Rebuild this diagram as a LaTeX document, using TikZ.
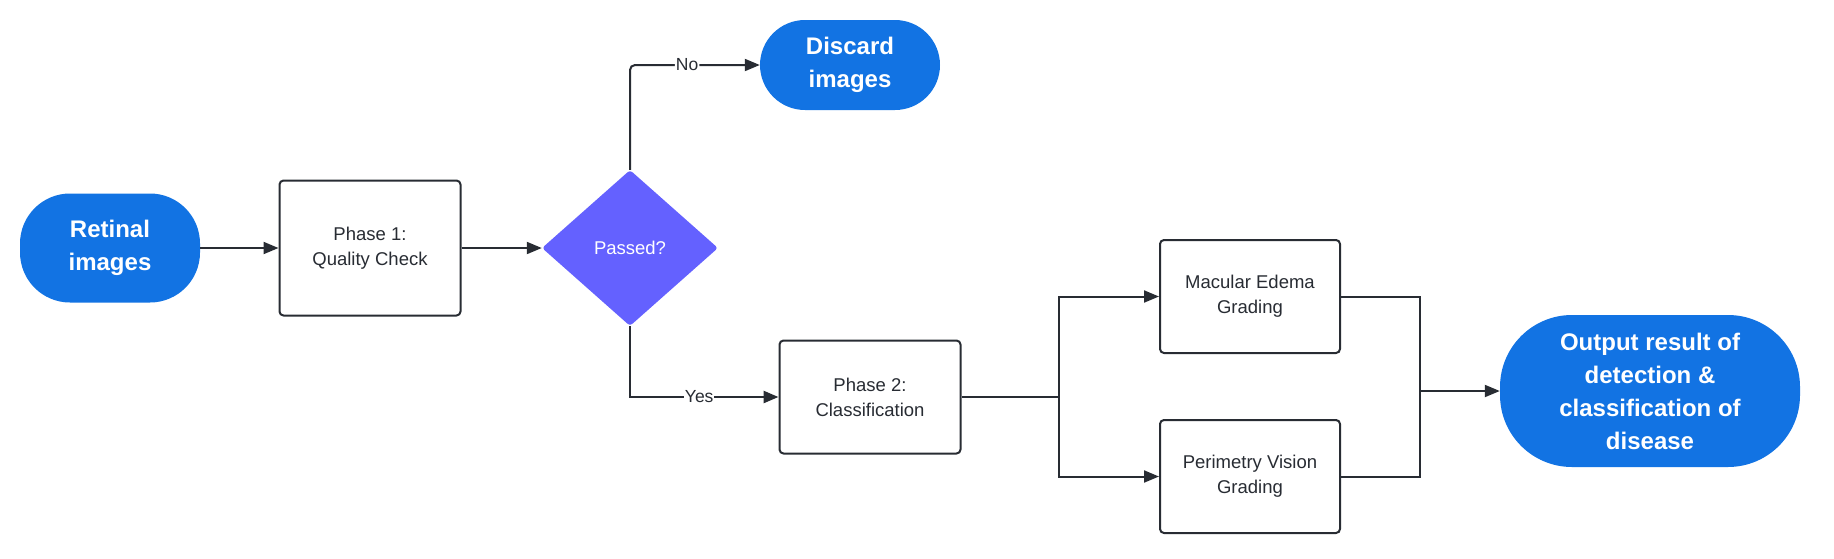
\documentclass[tikz,border=0pt]{standalone}
\usepackage{fontspec}
\setmainfont{Liberation Sans}
\usetikzlibrary{shapes.geometric,arrows.meta}
\definecolor{lblue}{HTML}{1273E3}
\definecolor{lpurple}{HTML}{6461FF}
\definecolor{ink}{HTML}{282C33}
\tikzset{
  term/.style={fill=lblue, text=white, align=center, inner sep=0pt,
    font=\fontsize{24}{33}\selectfont\bfseries},
  proc/.style={draw=ink, line width=2pt, fill=white, rounded corners=4pt, align=center,
    text=ink, minimum width=181pt, inner sep=0pt, font=\fontsize{18.5}{25}\selectfont},
  dec/.style={diamond, fill=lpurple, text=white, aspect=1.128, minimum width=176pt,
    minimum height=156pt, inner sep=0pt, rounded corners=3pt, font=\fontsize{18.5}{25}\selectfont},
  conn/.style={draw=ink, line width=2pt, -{Triangle[length=15pt,width=12pt]}},
  plain/.style={draw=ink, line width=2pt},
  lbl/.style={fill=white, text=ink, inner sep=1pt, font=\fontsize{17.5}{20}\selectfont},
}
\begin{document}
\begin{tikzpicture}[x=1pt,y=-1pt]
\useasboundingbox (0,0) rectangle (1834,558);
\node[term, minimum width=180pt, minimum height=109pt, rounded corners=50pt] (ret) at (110,248) {Retinal\\images};
\node[proc, minimum height=135pt] (p1) at (370,248) {Phase 1:\\Quality Check};
\node[dec] (dia) at (630,248) {Passed?};
\node[term, minimum width=180pt, minimum height=90pt, rounded corners=45pt] (dis) at (850,65) {Discard\\images};
\node[proc, minimum height=113pt] (p2) at (870,397) {Phase 2:\\Classification};
\node[proc, minimum width=180pt, minimum height=113pt] (mac) at (1250,296.5) {Macular Edema\\Grading};
\node[proc, minimum width=180pt, minimum height=113pt] (per) at (1250,476.5) {Perimetry Vision\\Grading};
\node[term, minimum width=300pt, minimum height=152pt, rounded corners=72pt] (out) at (1650,391) {Output result of\\detection \&\\classification of\\disease};
\coordinate (split) at (1059,397);
\coordinate (merge) at (1420,391);

\draw[conn] (ret.east) -- (p1.west);
\draw[conn] (p1.east) -- (dia.west);
\draw[conn, rounded corners=5pt] (dia.north) |- node[lbl, pos=0.72] {No} (dis.west);
\draw[conn, line width=2.6pt] (dia.south) |- node[lbl, pos=0.733] {Yes} (p2.west);
\draw[plain] (p2.east) -- (split);
\draw[conn] (split) |- (mac.west);
\draw[conn] (split) |- (per.west);
\draw[plain] (mac.east) -| (merge);
\draw[plain] (per.east) -| (merge);
\draw[conn] (merge) -- (out.west);
\end{tikzpicture}
\end{document}
